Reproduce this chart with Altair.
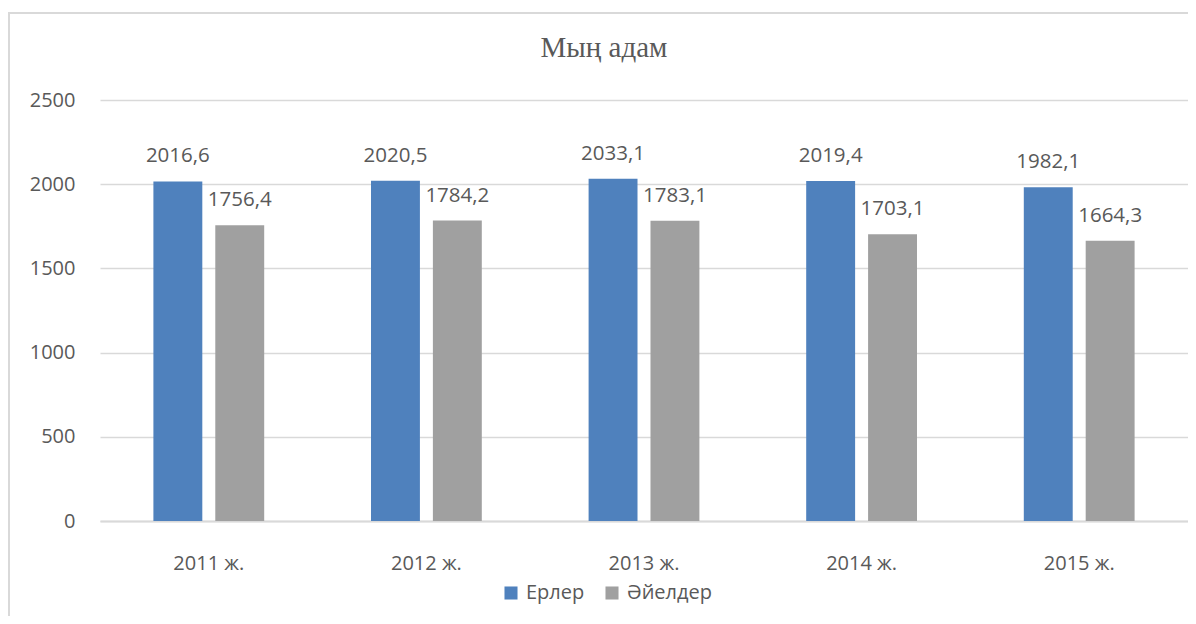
import altair as alt
import pandas as pd

years = ["2011 ж.", "2012 ж.", "2013 ж.", "2014 ж.", "2015 ж."]
series = ["Ерлер", "Әйелдер"]
men = [2016.6, 2020.5, 2033.1, 2019.4, 1982.1]
women = [1756.4, 1784.2, 1783.1, 1703.1, 1664.3]
colors = ["#4F81BD", "#A0A0A0"]
y_ticks = [0, 500, 1000, 1500, 2000, 2500]

rows = []
for yr, m, w in zip(years, men, women):
    rows.append({"year": yr, "series": series[0], "value": m,
                 "label": f"{m:.1f}".replace(".", ",")})
    rows.append({"year": yr, "series": series[1], "value": w,
                 "label": f"{w:.1f}".replace(".", ",")})
df = pd.DataFrame(rows)

FONT = "Open Sans"
TXT = "#595959"
GRID = "#D9D9D9"

base = alt.Chart(df).encode(
    x=alt.X("year:N", sort=years,
            scale=alt.Scale(paddingInner=0.4908, paddingOuter=0.2454),
            axis=alt.Axis(title=None, labelAngle=0, ticks=False, domain=True,
                          domainColor=GRID, domainWidth=2, labelPadding=32,
                          labelFontSize=20, labelFont=FONT, labelColor=TXT)),
    xOffset=alt.XOffset("series:N", sort=series,
                        scale=alt.Scale(domain=series, paddingInner=0.2097, paddingOuter=0)),
    y=alt.Y("value:Q", scale=alt.Scale(domain=[0, 2500], nice=False, zero=True),
            axis=alt.Axis(title=None, values=y_ticks, format="d", grid=True, gridColor=GRID,
                          gridWidth=1.5, domain=False, ticks=False, labelPadding=25,
                          labelFontSize=20, labelFont=FONT, labelColor=TXT)),
)

bars = base.mark_bar().encode(
    color=alt.Color("series:N", sort=series,
                    scale=alt.Scale(domain=series, range=colors),
                    legend=alt.Legend(orient="none", legendX=401, legendY=483,
                                      direction="horizontal", title=None,
                                      symbolType="square", symbolSize=170,
                                      symbolStrokeWidth=0, labelFontSize=20,
                                      labelFont=FONT, labelColor=TXT,
                                      columnPadding=17, labelOffset=5))
)

labels = base.mark_text(baseline="alphabetic", dy=-19, fontSize=20.5,
                        font=FONT, color=TXT).encode(text="label:N")

frame_df = pd.DataFrame({"a": [0]})
frame_left = alt.Chart(frame_df).mark_rule(color=GRID, strokeWidth=2).encode(
    x=alt.value(-91), y=alt.value(-88), y2=alt.value(620))
frame_top = alt.Chart(frame_df).mark_rule(color=GRID, strokeWidth=2).encode(
    x=alt.value(-92), x2=alt.value(1200), y=alt.value(-87))

chart = alt.layer(frame_left, frame_top, bars, labels).properties(
    width=1088, height=421,
    autosize=alt.AutoSizeParams(type="none"),
    padding={"left": 92, "top": 92, "right": 0, "bottom": 95},
    title=alt.TitleParams("Мың адам", font="Liberation Serif", fontSize=29,
                          color=TXT, fontWeight="normal", anchor="middle",
                          frame="group", dx=-40, dy=52, offset=0),
).configure_view(stroke=None)

chart.save("out.html", embed_options={"renderer": "svg", "actions": False})
